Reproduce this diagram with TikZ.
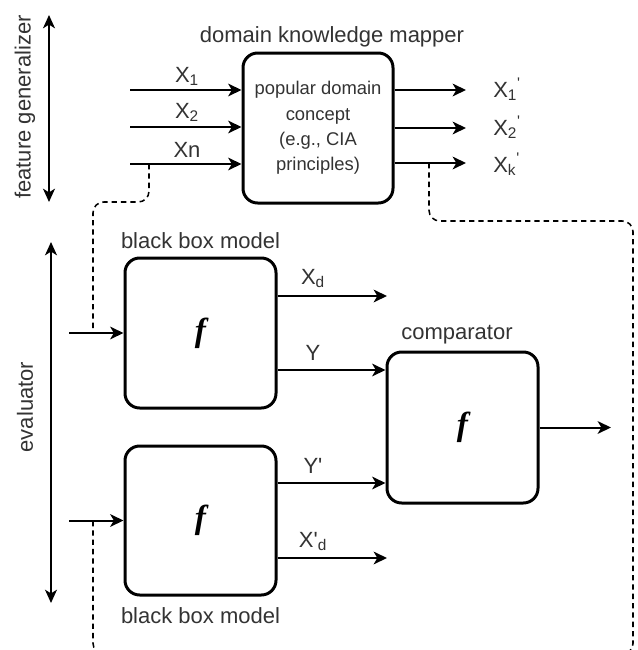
\documentclass[tikz,border=0pt]{standalone}
\usepackage{fontspec}
\setmainfont{Liberation Sans}
\newfontfamily\fserif{Liberation Serif}
\usetikzlibrary{arrows.meta}
\begin{document}
\begin{tikzpicture}[x=0.75pt,y=-0.75pt,
  txt/.style={text=black!80, font=\fontsize{16.5}{19}\selectfont, inner sep=0pt},
  box/.style={draw=black, line width=2.25pt, rounded corners=11pt, inner sep=0pt},
  fbox/.style={box, font=\fserif\bfseries\itshape\fontsize{25}{25}\selectfont},
  arr/.style={line width=1.5pt, -{Stealth[length=10pt,width=9.5pt,inset=2.8pt]}},
  darr/.style={line width=1.1pt, {Stealth[length=10pt,width=9pt,inset=2.8pt]}-{Stealth[length=10pt,width=9pt,inset=2.8pt]}},
  dsh/.style={line width=1.15pt, dash pattern=on 4pt off 3pt, rounded corners=8pt}]
\useasboundingbox (0,0) rectangle (637,650);
\clip (0,0) rectangle (637,650);
\fill[white] (0,0) rectangle (637,650);

% ---------- feature generalizer ----------
\coordinate (fg1) at (49,15);
\coordinate (fg2) at (49,202);
\draw[darr] (fg1) -- (fg2);
\node[txt, rotate=90] (fglab) at (25,107) {feature generalizer};

\node[box, text=black!80, minimum width=112.5pt, minimum height=112.5pt, align=center,
      font=\fontsize{13.8}{19}\selectfont] (map) at (318,128)
      {popular domain\\concept\\(e.g., CIA\\principles)};
\node[txt, anchor=base] (maplab) at (332,42) {domain knowledge mapper};

\coordinate (i1) at (130,90);
\coordinate (i2) at (130,127);
\coordinate (i3) at (130,164);
\draw[arr] (i1) -- (i1 -| map.west);
\draw[arr] (i2) -- (i2 -| map.west);
\draw[arr] (i3) -- (i3 -| map.west);
\node[txt, anchor=base] (lx1) at (187,82) {X\textsubscript{1}};
\node[txt, anchor=base] (lx2) at (187,118) {X\textsubscript{2}};
\node[txt, anchor=base] (lxn) at (187,157) {Xn};

\coordinate (o1) at (466,90);
\coordinate (o2) at (466,128);
\coordinate (o3) at (466,163);
\draw[arr] (o1 -| map.east) -- (o1);
\draw[arr] (o2 -| map.east) -- (o2);
\draw[arr] (o3 -| map.east) -- (o3);
\node[txt, anchor=base west] (ly1) at (493,97) {X\textsubscript{1}\textsuperscript{\textquotesingle}};
\node[txt, anchor=base west] (ly2) at (493,135) {X\textsubscript{2}\textsuperscript{\textquotesingle}};
\node[txt, anchor=base west] (lyk) at (493,172) {X\textsubscript{k}\textsuperscript{\textquotesingle}};

% ---------- evaluator ----------
\coordinate (ev1) at (51,242);
\coordinate (ev2) at (51,603);
\draw[darr] (ev1) -- (ev2);
\node[txt, rotate=90] (evlab) at (25,407) {evaluator};

\node[fbox, minimum width=113.25pt, minimum height=112.5pt] (bb1) at (200.5,333) {f};
\node[fbox, minimum width=113.25pt, minimum height=111.75pt] (bb2) at (200.5,520.5) {f};
\node[fbox, minimum width=113.25pt, minimum height=113.25pt] (comp) at (462.5,427.5) {f};
\node[txt, anchor=base] (bb1lab) at (200.5,248) {black box model};
\node[txt, anchor=base] (bb2lab) at (200.5,623) {black box model};
\node[txt, anchor=base] (complab) at (457,339) {comparator};

\coordinate (in1) at (69,333);
\coordinate (in2) at (69,520.5);
\draw[arr] (in1) -- (bb1.west);
\draw[arr] (in2) -- (bb2.west);

\coordinate (xd) at (387,296);
\coordinate (yc) at (387,370);
\coordinate (ypc) at (387,483);
\coordinate (xpd) at (387,558);
\coordinate (outc) at (611,427.5);
\draw[arr] (xd -| bb1.east) -- (xd);
\draw[arr] (yc -| bb1.east) -- (yc -| comp.west);
\draw[arr] (ypc -| bb2.east) -- (ypc -| comp.west);
\draw[arr] (xpd -| bb2.east) -- (xpd);
\draw[arr] (comp.east) -- (outc);
\node[txt, anchor=base] (lxd) at (313,284) {X\textsubscript{d}};
\node[txt, anchor=base] (ly) at (313,360) {Y};
\node[txt, anchor=base] (lyp) at (313,473) {Y\textquotesingle};
\node[txt, anchor=base] (lxpd) at (313,547) {X\textquotesingle\textsubscript{d}};

% ---------- dashed links ----------
\coordinate (tapn) at (149,164);
\coordinate (tapk) at (429,163);
\coordinate (dl1) at (93,333);
\coordinate (dl2) at (93,520.5);
\draw[dsh] (tapn) -- (149,202) -- (93,202) -- (dl1);
\draw[dsh] (tapk) -- (429,221) -- (633,221) -- (633,654) -- (93,654) -- (dl2);
\end{tikzpicture}
\end{document}
